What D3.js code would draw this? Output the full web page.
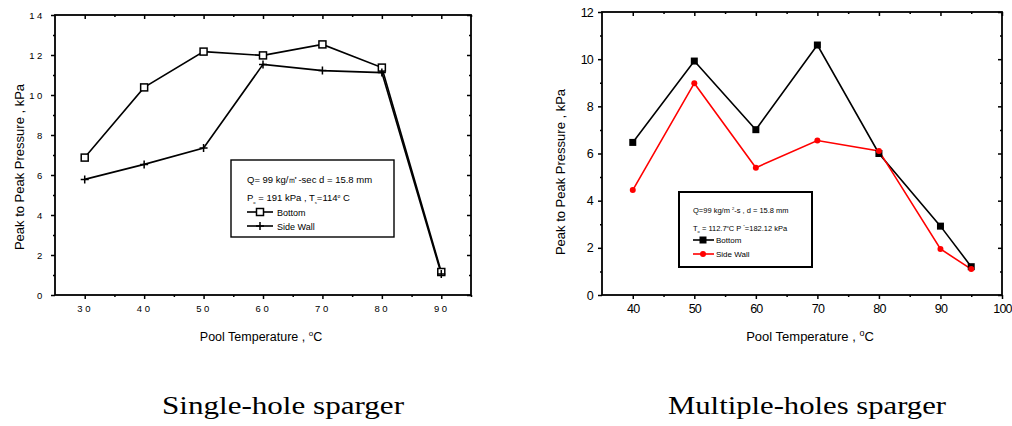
<!DOCTYPE html>
<html>
<head>
<meta charset="utf-8">
<script src="https://cdn.jsdelivr.net/npm/d3@7"></script>
<style>
  body { margin: 0; background: #fff; }
  svg { display: block; }
  .axis path, .axis line { stroke: #000; }
  .axis text { fill: #000; font-family: "Liberation Sans", Arial, sans-serif; }
</style>
</head>
<body>
<svg id="chart" width="1012" height="426"></svg>
<script>
// single-hole sparger
const temps1 = [30, 40, 50, 60, 70, 80, 90];
const bottom1 = [6.87, 10.38, 12.17, 11.98, 12.53, 11.37, 1.15];
const side1 = [5.78, 6.53, 7.35, 11.53, 11.22, 11.12, 1.05];
const xTicks1 = [30, 40, 50, 60, 70, 80, 90];
const yTicks1 = [0, 2, 4, 6, 8, 10, 12, 14];

// multiple-holes sparger
const temps2 = [40, 50, 60, 70, 80, 90, 95];
const bottom2 = [6.47, 9.92, 7.01, 10.6, 6.0, 2.92, 1.2];
const side2 = [4.45, 8.98, 5.4, 6.55, 6.11, 1.95, 1.1];
const xTicks2 = [40, 50, 60, 70, 80, 90, 100];
const yTicks2 = [0, 2, 4, 6, 8, 10, 12];

const captions = ["Single-hole sparger", "Multiple-holes sparger"];

const svg = d3.select("#chart");

// draws frame, ticks on all four sides, labels
function drawFrame(g, x, y, opt) {
    const [x0, x1] = x.range();
    const [y0, y1] = y.range();
    const xMinor = d3.range(opt.xTicks[0] - 5, x.domain()[1] + 0.1, 10).filter(v => v > x.domain()[0]);
    const yMinor = d3.range(1, y.domain()[1], 2);

    const mk = (axis, tr, ticks, size, labels) => {
        const a = g.append("g").attr("class", "axis").attr("transform", tr)
            .call(axis.tickValues(ticks).tickSize(size).tickSizeOuter(0).tickPadding(opt.pad)
                .tickFormat(labels ? opt.fmt : () => ""));
        a.select(".domain").remove();
        a.selectAll("line").attr("stroke-width", 1.5);
        return a;
    };
    // bottom + left outward, top + right inward
    const bx = mk(d3.axisBottom(x), `translate(0,${y0})`, opt.xTicks, 4, true);
    mk(d3.axisBottom(x), `translate(0,${y0})`, xMinor, 2, false);
    const ly = mk(d3.axisLeft(y), `translate(${x0},0)`, opt.yTicks, 4, true);
    mk(d3.axisLeft(y), `translate(${x0},0)`, yMinor, 2, false);
    mk(d3.axisTop(x), `translate(0,${y1})`, opt.xTicks, -4, false);
    mk(d3.axisTop(x), `translate(0,${y1})`, xMinor, -2, false);
    mk(d3.axisRight(y), `translate(${x1},0)`, opt.yTicks, -4, false);
    mk(d3.axisRight(y), `translate(${x1},0)`, yMinor, -2, false);

    [bx, ly].forEach(a => a.selectAll("text")
        .style("font-size", opt.tickFont + "px")
        .style("letter-spacing", opt.spacing + "px"));

    g.append("rect")
        .attr("x", x0).attr("y", y1)
        .attr("width", x1 - x0).attr("height", y0 - y1)
        .attr("fill", "none").attr("stroke", "#000").attr("stroke-width", 1.8);
}

function seriesLine(g, x, y, xs, ys, color) {
    const line = d3.line().x((d, i) => x(xs[i])).y(d => y(d));
    g.append("path").datum(ys)
        .attr("d", line)
        .attr("fill", "none")
        .attr("stroke", color)
        .attr("stroke-width", 1.6);
}

const font = '"Liberation Sans", Arial, sans-serif';

// ---------- left panel ----------
{
    const x = d3.scaleLinear().domain([25, 95]).range([55, 471]);
    const y = d3.scaleLinear().domain([0, 14]).range([295, 15]);
    const g = svg.append("g");
    drawFrame(g, x, y, { xTicks: xTicks1, yTicks: yTicks1, fmt: d3.format("d"), tickFont: 9.5, spacing: 2.6, pad: 6 });

    seriesLine(g, x, y, temps1, bottom1, "#000");
    seriesLine(g, x, y, temps1, side1, "#000");

    g.selectAll(".sq").data(bottom1).enter().append("rect")
        .attr("x", (d, i) => x(temps1[i]) - 3.5).attr("y", d => y(d) - 3.5)
        .attr("width", 7).attr("height", 7)
        .attr("fill", "#fff").attr("stroke", "#000").attr("stroke-width", 1.5);
    g.selectAll(".pl").data(side1).enter().append("path")
        .attr("d", (d, i) => {
            const cx = x(temps1[i]), cy = y(d);
            return `M${cx - 4},${cy}H${cx + 4}M${cx},${cy - 4}V${cy + 4}`;
        })
        .attr("stroke", "#000").attr("stroke-width", 1.5);

    // axis titles
    g.append("text").attr("transform", "translate(23.5,167) rotate(-90)")
        .attr("text-anchor", "middle").style("font", `13px ${font}`)
        .text("Peak to Peak Pressure , kPa");
    const xt = g.append("text").attr("x", 261).attr("y", 341)
        .attr("text-anchor", "middle").style("font", `12.5px ${font}`);
    xt.append("tspan").text("Pool Temperature , ");
    xt.append("tspan").attr("dy", -5).style("font-size", "8px").text("o");
    xt.append("tspan").attr("dy", 5).text("C");

    // legend box
    g.append("rect").attr("x", 231).attr("y", 160).attr("width", 163).attr("height", 77)
        .attr("fill", "#fff").attr("stroke", "#000").attr("stroke-width", 1.4);
    const lf = `9.5px ${font}`;
    g.append("text").attr("x", 247).attr("y", 183).style("font", lf)
        .text("Q= 99 kg/㎡-sec d = 15.8 mm");
    const l2 = g.append("text").attr("x", 247).attr("y", 201).style("font", lf);
    l2.append("tspan").text("P");
    l2.append("tspan").attr("dy", 3).style("font-size", "4px").text("o");
    l2.append("tspan").attr("dy", -3).text(" = 191 kPa , T");
    l2.append("tspan").attr("dy", 3).style("font-size", "4px").text("s");
    l2.append("tspan").attr("dy", -3).text("=114");
    l2.append("tspan").attr("dy", -3).style("font-size", "5px").text("o");
    l2.append("tspan").attr("dy", 3).text(" C");

    const leg = [{ name: "Bottom", y: 212 }, { name: "Side Wall", y: 226 }];
    leg.forEach((d, i) => {
        g.append("line").attr("x1", 247).attr("x2", 273).attr("y1", d.y).attr("y2", d.y)
            .attr("stroke", "#000").attr("stroke-width", 1.6);
        if (i === 0) {
            g.append("rect").attr("x", 256.5).attr("y", d.y - 3.5).attr("width", 7).attr("height", 7)
                .attr("fill", "#fff").attr("stroke", "#000").attr("stroke-width", 1.5);
        } else {
            g.append("path").attr("d", `M256,${d.y}H264M260,${d.y - 4}V${d.y + 4}`)
                .attr("stroke", "#000").attr("stroke-width", 1.5);
        }
        g.append("text").attr("x", 277).attr("y", d.y + 3.5).style("font", `9px ${font}`).text(d.name);
    });
}

// ---------- right panel ----------
{
    const x = d3.scaleLinear().domain([35, 100]).range([602, 1002]);
    const y = d3.scaleLinear().domain([0, 12]).range([295, 12]);
    const g = svg.append("g");
    drawFrame(g, x, y, { xTicks: xTicks2, yTicks: yTicks2, fmt: d3.format("d"), tickFont: 12.5, spacing: -0.8, pad: 5 });

    seriesLine(g, x, y, temps2, bottom2, "#000");
    seriesLine(g, x, y, temps2, side2, "#ff0000");

    g.selectAll(".sq").data(bottom2).enter().append("rect")
        .attr("x", (d, i) => x(temps2[i]) - 3.5).attr("y", d => y(d) - 3.5)
        .attr("width", 7).attr("height", 7).attr("fill", "#000");
    g.selectAll(".ci").data(side2).enter().append("circle")
        .attr("cx", (d, i) => x(temps2[i])).attr("cy", d => y(d))
        .attr("r", 3).attr("fill", "#ff0000");

    g.append("text").attr("transform", "translate(565,172) rotate(-90)")
        .attr("text-anchor", "middle").style("font", `13px ${font}`)
        .text("Peak to Peak Pressure , kPa");
    const xt = g.append("text").attr("x", 810).attr("y", 341)
        .attr("text-anchor", "middle").style("font", `13px ${font}`);
    xt.append("tspan").text("Pool Temperature , ");
    xt.append("tspan").attr("dy", -5).style("font-size", "9px").text("o");
    xt.append("tspan").attr("dy", 5).text("C");

    g.append("rect").attr("x", 679).attr("y", 192).attr("width", 133).attr("height", 75)
        .attr("fill", "#fff").attr("stroke", "#000").attr("stroke-width", 2);
    const lf = `7.5px ${font}`;
    const l1 = g.append("text").attr("x", 693).attr("y", 213).style("font", lf);
    l1.append("tspan").text("Q=99 kg/m ");
    l1.append("tspan").attr("dy", -3).style("font-size", "4px").text("2");
    l1.append("tspan").attr("dy", 3).text("-s , d = 15.8 mm");
    const l2 = g.append("text").attr("x", 693).attr("y", 231).style("font", lf);
    l2.append("tspan").text("T");
    l2.append("tspan").attr("dy", 2).style("font-size", "4px").text("o");
    l2.append("tspan").attr("dy", -2).text(" = 112.7");
    l2.append("tspan").attr("dy", -3).style("font-size", "4px").text("o");
    l2.append("tspan").attr("dy", 3).text("C P ");
    l2.append("tspan").attr("dy", -3).style("font-size", "4px").text("*");
    l2.append("tspan").attr("dy", 3).text("=182.12 kPa");

    const leg = [{ name: "Bottom", y: 240, c: "#000" }, { name: "Side Wall", y: 254, c: "#ff0000" }];
    leg.forEach((d, i) => {
        g.append("line").attr("x1", 693).attr("x2", 714).attr("y1", d.y).attr("y2", d.y)
            .attr("stroke", d.c).attr("stroke-width", 1.6);
        if (i === 0) {
            g.append("rect").attr("x", 699.5).attr("y", d.y - 3.5).attr("width", 7).attr("height", 7).attr("fill", "#000");
        } else {
            g.append("circle").attr("cx", 703).attr("cy", d.y).attr("r", 3).attr("fill", "#ff0000");
        }
        g.append("text").attr("x", 716).attr("y", d.y + 3).style("font", `8px ${font}`).text(d.name);
    });
}

// captions
svg.selectAll(".cap").data(captions).enter().append("text")
    .attr("x", (d, i) => i === 0 ? 162 : 668)
    .attr("y", 414)
    .attr("textLength", (d, i) => i === 0 ? 242 : 278)
    .attr("lengthAdjust", "spacingAndGlyphs")
    .style("font", '25px "Liberation Serif", "Times New Roman", serif')
    .text(d => d);
</script>
</body>
</html>
